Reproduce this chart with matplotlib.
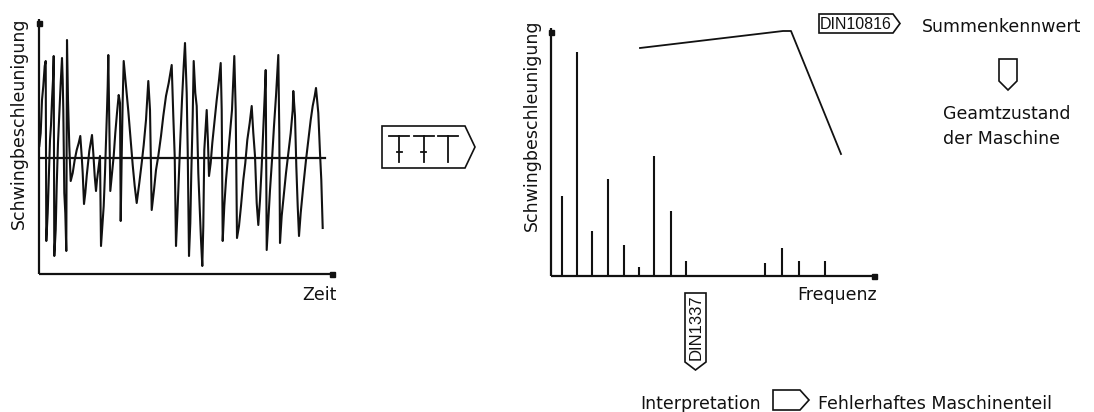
import matplotlib.pyplot as plt
from matplotlib.patches import Polygon

W, H = 1094, 412

# Zeitsignal (Zeit, Schwingbeschleunigung)
sig_t = [0.3, 1.7, 3, 4.3, 5.7, 6.7, 7.3, 8.7, 10, 11,
         12, 13, 14, 14.7, 15.3, 16.7, 17.7, 19, 20.3, 21.7,
         23, 23.7, 24.3, 25.3, 26.3, 27.3, 28, 29, 30.3, 31.7,
         33.7, 35.7, 37.7, 39.7, 41.3, 42.7, 43.7, 45, 46.3, 47.7,
         49, 50.3, 51.7, 53, 54.3, 55.7, 57, 58, 59.7, 61,
         62, 63.3, 64.7, 66, 67, 68, 68.7, 69.3, 70.3, 71.3,
         73, 74.7, 76.3, 78, 79.7, 81, 81.7, 82.7, 83.7, 84.7,
         87, 89.3, 91.7, 93.7, 95.7, 97.7, 100.3, 102.7, 104.7, 107,
         109.3, 111, 112.7, 115, 117, 119.3, 122, 124.3, 127, 129.7,
         132.7, 134.3, 135.7, 137, 138.3, 140, 141.3, 143, 144.7, 146,
         147.7, 148.7, 150, 151.3, 152.3, 153.7, 154.7, 156.3, 157.7, 159.3,
         161, 162, 163.3, 164.3, 165.3, 166.7, 167.7, 169, 170, 171.7,
         173.3, 175.3, 177.7, 179.7, 181.7, 182.7, 183.7, 185.3, 187, 189,
         191, 193, 195.3, 196.7, 198, 200, 202, 204.3, 206.3, 208.3,
         210.7, 212.7, 214.3, 216, 217.7, 219.3, 221, 222.7, 224.3, 225.7,
         226.7, 227.7, 229.3, 231, 233, 235, 237, 239.3, 240.3, 241,
         242.7, 245, 247, 249.3, 251.7, 253.7, 254.3, 256, 257.3, 258.7,
         260, 261.7, 264.3, 267, 269.3, 271.7, 273.7, 275.7, 277, 279.3,
         281, 282.3, 283.7]
sig_a = [12, 25, 58, 72, 92, 97, -83, -55, -15, 18,
         33, 58, 78, 102, -98, -72, -28, 15, 45, 75,
         100, 78, 48, -35, -55, -93, 118, 58, 12, -23,
         -15, -2, 8, 15, 22, 2, -15, -46, -35, -18,
         -5, 7, 15, 23, 5, -18, -33, -22, -8, 2,
         -88, -68, -48, -15, 15, 48, 72, 103, 32, -33,
         -15, 2, 25, 45, 63, 55, -63, 2, 58, 97,
         72, 47, 18, -7, -28, -45, -25, -5, 13, 38,
         77, 48, -52, -32, -12, 2, 22, 42, 62, 75,
         93, 42, 2, -88, -58, -15, 18, 58, 92, 115,
         65, 8, -98, -65, -15, 42, 97, 65, 52, -15,
         -58, -82, -108, -68, 8, 32, 48, 15, -18, -5,
         15, 35, 58, 75, 95, 48, -83, -48, -22, 2,
         25, 48, 102, 48, -80, -68, -48, -22, -5, 18,
         35, 52, 25, 2, -45, -67, -42, -8, 28, 62,
         88, -92, -62, -32, -2, 32, 62, 103, 25, -85,
         -58, -35, -15, 5, 25, 48, 67, 42, -8, -48,
         -78, -55, -28, -2, 18, 38, 52, 62, 70, 45,
         5, -22, -70]
zero_end = 286

# Spektrum (Frequenz, Amplitude)
freq = [11, 26, 41, 57, 73, 88, 103, 120, 135, 214, 231, 248, 274]
amp = [80, 224, 45, 97, 31, 9, 120, 65, 15, 13, 28, 15, 15]
# Grenzkurve
env_f = [89, 232, 240, 290]
env_a = [228, 245, 245, 122]

INK = '#111111'

fig = plt.figure(figsize=(W / 100, H / 100), dpi=100)
fig.patch.set_facecolor('white')

deco = fig.add_axes([0, 0, 1, 1])
deco.set_xlim(0, W)
deco.set_ylim(H, 0)
deco.axis('off')


def px_axes(x0, y0, x1, y1):
    a = fig.add_axes([x0 / W, 1 - y1 / H, (x1 - x0) / W, (y1 - y0) / H])
    a.patch.set_alpha(0)
    for s in a.spines.values():
        s.set_visible(False)
    a.set_xticks([])
    a.set_yticks([])
    return a


def draw_frame(ax, xmax, ymin, ymax):
    kw = dict(color=INK, lw=1.6, clip_on=False, solid_capstyle='butt')
    ax.plot([0, 0], [ymin, ymax], **kw)
    ax.plot([0, xmax], [ymin, ymin], **kw)
    ax.plot([0], [ymax - 4], 's', ms=3.6, color=INK, clip_on=False)
    ax.plot([xmax - 4], [ymin], 's', ms=3.6, color=INK, clip_on=False)


def tag_right(x0, y0, x1, y1, tip):
    deco.add_patch(Polygon([(x0, y0), (x1, y0), (tip, (y0 + y1) / 2), (x1, y1), (x0, y1)],
                           closed=True, fill=False, ec=INK, lw=1.2))


def tag_down(x0, y0, x1, y1, tip):
    deco.add_patch(Polygon([(x0, y0), (x1, y0), (x1, y1), ((x0 + x1) / 2, tip), (x0, y1)],
                           closed=True, fill=False, ec=INK, lw=1.2))


# linkes Diagramm: Zeitsignal
ax1 = px_axes(39, 19, 336, 274)
ax1.set_xlim(0, 297)
ax1.set_ylim(-116, 139)
draw_frame(ax1, 297, -116, 139)
ax1.plot([0, zero_end], [0, 0], color=INK, lw=1.6)
ax1.plot(sig_t, sig_a, color=INK, lw=1.5, clip_on=False)

# rechtes Diagramm: Spektrum
ax2 = px_axes(551, 28, 878, 276)
ax2.set_xlim(0, 327)
ax2.set_ylim(0, 248)
draw_frame(ax2, 327, 0, 248)
ax2.vlines(freq, 0, amp, color=INK, lw=1.5)
ax2.plot(env_f, env_a, color=INK, lw=1.3, clip_on=False)

txt = dict(color=INK, fontsize=12.5, family='DejaVu Sans')
deco.text(19, 123, 'Schwingbeschleunigung', rotation=90, ha='center', va='center', **txt)
deco.text(337, 300, 'Zeit', ha='right', va='baseline', **txt)
deco.text(532, 125, 'Schwingbeschleunigung', rotation=90, ha='center', va='center', **txt)
deco.text(877, 300.5, 'Frequenz', ha='right', va='baseline', **txt)
deco.text(922, 32, 'Summenkennwert', ha='left', va='baseline', **txt)
deco.text(943, 118.5, 'Geamtzustand', ha='left', va='baseline', **txt)
deco.text(943, 143.5, 'der Maschine', ha='left', va='baseline', **txt)
deco.text(640, 409, 'Interpretation', ha='left', va='baseline', **txt)
deco.text(818, 409, 'Fehlerhaftes Maschinenteil', ha='left', va='baseline', **txt)

# Symbole
tag_right(382, 126, 465, 168, 475)
for cx, tick in [(399, True), (423.5, True), (448, False)]:
    deco.plot([cx - 10, cx + 10], [136, 136], color=INK, lw=1.3)
    deco.plot([cx, cx], [136, 162], color=INK, lw=1.3)
    if tick:
        deco.plot([cx - 2.5, cx + 2.5], [152, 152], color=INK, lw=1.3)

tag_right(819, 14, 893, 33, 900)
deco.text(855.5, 24, 'DIN10816', ha='center', va='center', color=INK, fontsize=11.5,
          family='Liberation Sans')

tag_down(685, 293, 706, 362, 370)
deco.text(696, 327, 'DIN1337', rotation=90, ha='center', va='center', color=INK,
          fontsize=12, family='Liberation Sans')

tag_down(999, 59, 1017, 81, 90)
tag_right(773, 390, 800, 410, 809)

fig.savefig('out.png', dpi=100, facecolor='white')
